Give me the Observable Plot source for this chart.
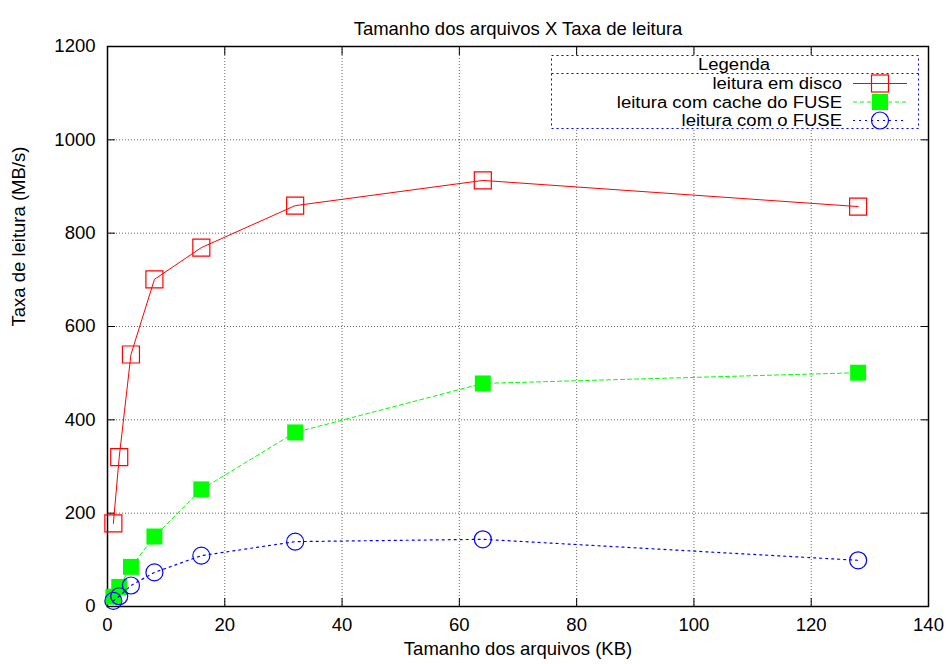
<!DOCTYPE html>
<html><head><meta charset="utf-8">
<script src="https://cdn.jsdelivr.net/npm/d3@7"></script>
<script src="https://cdn.jsdelivr.net/npm/@observablehq/plot@0.6"></script>
<style>
body{margin:0;background:#fff;}
#wrap{position:relative;width:950px;height:664px;}
#legend{position:absolute;left:0;top:0;pointer-events:none;}
</style></head><body><div id="wrap"></div>
<script>
// ---- data ----
const tamanhos = [1, 2, 4, 8, 16, 32, 64, 128];
const leituraDisco = [178, 320, 540, 701, 769, 859, 913, 857];
const leituraCache = [21, 42, 85, 150, 251, 373, 478, 501];
const leituraFuse = [12, 22, 45, 73, 109, 139, 144, 99];
const seriesNames = ["leitura em disco", "leitura com cache do FUSE", "leitura com o FUSE"];
const xTicks = [0, 20, 40, 60, 80, 100, 120, 140];
const yTicks = [0, 200, 400, 600, 800, 1000, 1200];
const titulo = "Tamanho dos arquivos X Taxa de leitura";
const xLabel = "Tamanho dos arquivos (KB)";
const yLabel = "Taxa de leitura (MB/s)";
const legendTitle = "Legenda";

const font = '"Liberation Sans", Arial, Helvetica, sans-serif';
const FS = 18.5;
const LFS = 16;
const rows = vals => tamanhos.map((s, i) => ({x: s, y: vals[i]}));
const disco = rows(leituraDisco), cache = rows(leituraCache), fuse = rows(leituraFuse);
const fmt = d => String(d);

const plot = Plot.plot({
  width: 950, height: 664,
  marginLeft: 107, marginRight: 22, marginTop: 46, marginBottom: 58,
  style: {fontFamily: font, fontSize: FS + "px", background: "#fff", color: "#000"},
  x: {domain: [0, 140]},
  y: {domain: [0, 1200]},
  marks: [
    Plot.gridX(xTicks, {stroke: "#000", strokeOpacity: 0.6, strokeDasharray: "1,2"}),
    Plot.gridY(yTicks, {stroke: "#000", strokeOpacity: 0.6, strokeDasharray: "1,2"}),
    Plot.axisX(xTicks, {anchor: "bottom", tickSize: 0, tickPadding: 11, label: null, fontSize: FS, tickFormat: fmt}),
    Plot.axisX(xTicks, {anchor: "bottom", tickSize: -8, fill: "none", label: null}),
    Plot.axisX(xTicks, {anchor: "top", tickSize: -8, fill: "none", label: null}),
    Plot.axisY(yTicks, {anchor: "left", tickSize: 0, tickPadding: 12, label: null, fontSize: FS, tickFormat: fmt}),
    Plot.axisY(yTicks, {anchor: "left", tickSize: -8, fill: "none", label: null}),
    Plot.axisY(yTicks, {anchor: "right", tickSize: -8, fill: "none", label: null}),
    Plot.frame({stroke: "#000", strokeWidth: 1.5}),
    Plot.line(disco, {x: "x", y: "y", stroke: "#ff0000", strokeWidth: 1}),
    Plot.dot(disco, {x: "x", y: "y", symbol: "square", r: 9.6, stroke: "#ff0000", fill: "none", strokeWidth: 1.2}),
    Plot.line(cache, {x: "x", y: "y", stroke: "#00ff00", strokeWidth: 1, strokeDasharray: "4,3"}),
    Plot.dot(cache, {x: "x", y: "y", symbol: "square", r: 9, fill: "#00ff00", stroke: "none"}),
    Plot.line(fuse, {x: "x", y: "y", stroke: "#0000ff", strokeWidth: 1.2, strokeDasharray: "2,4"}),
    Plot.dot(fuse, {x: "x", y: "y", symbol: "circle", r: 8.5, stroke: "#0000ff", fill: "none", strokeWidth: 1.2}),
    Plot.text([titulo], {text: d => d, frameAnchor: "top", dy: -25, fontSize: FS}),
    Plot.text([xLabel], {text: d => d, frameAnchor: "bottom", dy: 48, fontSize: FS}),
    Plot.text([yLabel], {text: d => d, frameAnchor: "left", dx: -88, rotate: -90, fontSize: FS})
  ]
});
const wrap = document.getElementById("wrap");
wrap.appendChild(plot);

// ---- legend overlay ----
const L = d3.select(wrap).append("svg").attr("id", "legend")
  .attr("width", 950).attr("height", 664)
  .style("font-family", font).style("font-size", LFS + "px");
const bx = 551, by = 55, bw = 367, bh = 73;
L.append("rect").attr("x", bx + 0.5).attr("y", by + 0.5).attr("width", bw).attr("height", bh)
  .attr("fill", "#fff").attr("stroke", "#0000ff").attr("stroke-dasharray", "2,3");
L.append("path").attr("d", `M${bx + 0.5},73.5H${bx + bw + 0.5}`)
  .attr("fill", "none").attr("stroke", "#0000ff").attr("stroke-dasharray", "2,3");
const stretch = sel => {
  const n = sel.node();
  const w = n.getComputedTextLength();
  sel.attr("textLength", w * FS / LFS).attr("lengthAdjust", "spacingAndGlyphs");
};
L.append("text").attr("x", 734).attr("y", 64).attr("text-anchor", "middle")
  .attr("dominant-baseline", "central").text(legendTitle).call(stretch);
const styles = [
  {stroke: "#ff0000", dash: null, sym: "osq"},
  {stroke: "#00ff00", dash: "4,3", sym: "fsq"},
  {stroke: "#0000ff", dash: "2,4", sym: "oc"}
];
const rowY = [83.5, 102, 120.5];
seriesNames.forEach((name, i) => {
  const y = rowY[i], s = styles[i];
  L.append("text").attr("x", 842).attr("y", y).attr("text-anchor", "end")
    .attr("dominant-baseline", "central").text(name).call(stretch);
  const ln = L.append("line").attr("x1", 853).attr("x2", 907).attr("y1", y).attr("y2", y)
    .attr("stroke", s.stroke);
  if (s.dash) ln.attr("stroke-dasharray", s.dash);
  if (s.sym === "osq") L.append("rect").attr("x", 880 - 8.5).attr("y", y - 8.5).attr("width", 17).attr("height", 17)
    .attr("fill", "none").attr("stroke", s.stroke).attr("stroke-width", 1.2);
  if (s.sym === "fsq") L.append("rect").attr("x", 880 - 8).attr("y", y - 8).attr("width", 16).attr("height", 16)
    .attr("fill", s.stroke);
  if (s.sym === "oc") L.append("circle").attr("cx", 880).attr("cy", y).attr("r", 8.5)
    .attr("fill", "none").attr("stroke", s.stroke).attr("stroke-width", 1.2);
});
</script></body></html>
